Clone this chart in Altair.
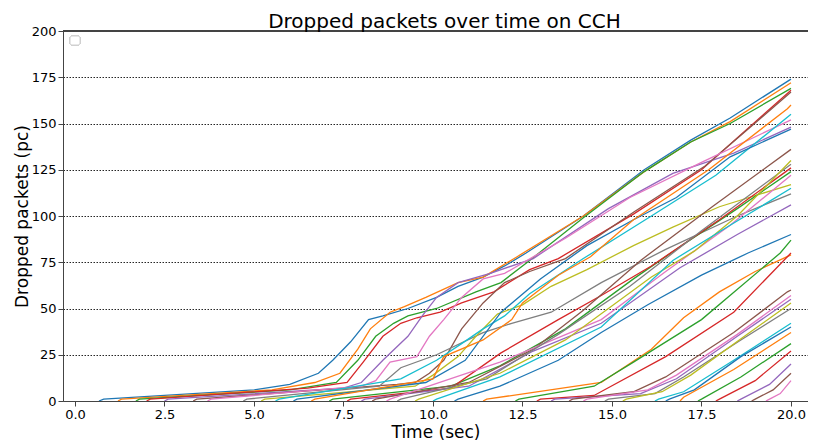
import altair as alt
import pandas as pd

# Tick labels
x_ticks = [0, 2.5, 5, 7.5, 10, 12.5, 15, 17.5, 20]
y_ticks = [0, 25, 50, 75, 100, 125, 150, 175, 200]

# matplotlib tab10 colour cycle
palette = ["#1f77b4", "#ff7f0e", "#2ca02c", "#d62728", "#9467bd",
           "#8c564b", "#e377c2", "#7f7f7f", "#bcbd22", "#17becf"]

# Each series: (time sec, dropped packets) key points
S00 = [(0.67,0),(0.8,1),(5.0,6),(6.0,9),(6.8,15),(7.2,22),(7.7,32),(8.2,44),(8.6,46),(9.3,50),(10.1,56),(10.7,62),(11.4,67),(12.0,73),(12.6,80),(14.2,100),(15.9,125),(17.2,141),(18.3,153),(20,174)]
S01 = [(1.2,0),(1.3,1),(5.5,6),(6.7,10),(7.4,15),(7.9,28),(8.25,39),(8.8,48),(9.2,51),(9.8,56),(10.7,64),(11.4,67),(12.35,78),(14.2,100),(15.9,124),(17.2,140),(18.3,151),(20,172)]
S02 = [(1.7,0),(1.8,1),(6.0,6),(7.3,10),(7.9,22),(8.4,35),(8.9,42),(9.3,46),(10.1,50),(11.2,59),(11.9,64),(12.7,76),(14.2,99),(15.9,124),(17.2,140),(18.3,150),(20,169)]
S03 = [(2.0,0),(2.1,1),(6.5,7),(7.6,10),(8.05,21),(8.6,35),(9.1,42),(9.55,45),(10.2,48),(10.8,53),(11.7,59),(12.7,71),(13.5,77),(15.6,101),(17.5,125),(20,168)]
S04 = [(2.5,0),(2.6,1),(7.5,7),(8.0,10),(8.6,22),(9.3,35),(9.7,46),(10.1,56),(10.7,64),(11.6,69),(12.8,77),(14.9,104),(16.7,123),(18.4,134),(20,148)]
S05 = [(3.3,0),(3.4,1),(9.0,9),(9.5,10),(9.9,15),(10.3,22),(10.8,39),(11.4,53),(12.0,64),(12.7,70),(13.7,77),(15.6,102),(17.6,127),(20,167)]
S06 = [(3.7,0),(3.8,1),(8.0,8),(8.4,11),(8.8,21),(9.55,24),(9.9,35),(10.3,44),(10.8,56),(11.4,66),(12.0,69),(13.7,88),(15.5,110),(17.5,129),(20,152)]
S07 = [(4.7,0),(4.8,1),(8.5,8),(9.1,18),(10.1,25),(11.4,37),(12.2,42),(13.3,48),(14.7,64),(16.5,82),(18.5,100),(20,112)]
S08 = [(5.2,0),(5.3,1),(9.5,8),(10.0,14),(10.7,24),(11.2,35),(11.8,47),(12.5,52),(13.3,62),(14.3,71),(15.6,84),(16.7,94),(18.0,105),(20,117)]
S09 = [(5.6,0),(5.7,1),(9.1,12),(10.1,22),(10.8,31),(11.4,39),(12.0,46),(12.7,58),(14.2,77),(16.1,100),(17.9,122),(20,155)]
S10 = [(6.1,0),(6.2,1),(9.8,10),(10.9,22),(11.9,48),(13.0,66),(14.3,84),(15.6,98),(16.8,110),(18.3,132),(20,147)]
S11 = [(6.6,0),(6.7,1),(10.0,12),(10.3,24),(11.4,33),(12.2,44),(12.5,53),(13.5,68),(14.4,78),(15.6,98),(17.7,125),(19.9,158),(20,160)]
S12 = [(7.1,0),(7.2,1),(10.5,8),(11.87,19),(13.7,39),(15.6,66),(17.1,86),(18.5,104),(20,124)]
S13 = [(7.6,0),(7.7,1),(10.5,7),(11.9,26),(13.5,44),(14.7,57),(16.1,73),(18.0,98),(20,126)]
S14 = [(8.0,0),(8.1,1),(11.0,8),(12.8,27),(14.7,42),(16.9,72),(18.5,90),(20,106)]
S15 = [(8.3,0),(8.4,1),(11.0,10),(12.8,28),(14.2,49),(15.8,76),(17.8,105),(20,136)]
S16 = [(8.7,0),(8.8,1),(11.87,21),(14.7,44),(16.5,70),(18.3,95),(20,122)]
S17 = [(9.0,0),(9.1,1),(11.5,12),(13.5,36),(15.5,62),(17.5,92),(20,128)]
S18 = [(9.5,0),(9.6,1),(11.87,15),(13.7,33),(16.1,67),(17.3,81),(18.5,100),(20,130)]
S19 = [(10.0,0),(10.1,1),(11.87,13),(14.7,40),(16.7,76),(18.3,95),(20,115)]
S20 = [(10.6,0),(10.7,1),(11.87,8),(13.5,22),(14.7,37),(16.0,52),(17.5,68),(18.8,80),(20,90)]
S21 = [(11.4,0),(11.5,1),(14.7,10),(16.1,28),(17.0,45),(18.0,59),(19.0,70),(20,79)]
S22 = [(12.3,0),(12.4,1),(14.5,8),(15.6,21),(17.5,44),(19.7,80),(20,87)]
S23 = [(12.9,0),(13.0,1),(14.5,3),(16.5,24),(18.4,48),(20,80)]
S24 = [(13.3,0),(13.4,1),(15.8,4),(16.8,12),(18.5,35),(20,55)]
S25 = [(13.8,0),(13.9,1),(15.6,5),(16.5,13),(18.4,37),(19.9,59),(20,60)]
S26 = [(14.2,0),(14.3,1),(16.0,6),(16.8,14),(18.5,36),(20,57)]
S27 = [(14.8,0),(14.9,1),(16.2,4),(17.0,13),(18.6,33),(20,50)]
S28 = [(15.3,0),(15.4,1),(16.4,5),(17.2,14),(18.7,35),(20,53)]
S29 = [(16.2,0),(16.3,1),(17.0,5),(18.4,22),(20,42)]
S30 = [(16.5,0),(16.6,1),(17.3,6),(18.6,24),(20,40)]
S31 = [(16.9,0),(17.0,2),(18.4,17),(20,37)]
S32 = [(17.4,0),(17.5,1),(18.6,13),(20,31)]
S33 = [(17.9,0),(18.0,1),(19.0,11),(20,27)]
S34 = [(18.5,0),(18.6,1),(19.4,9),(20,20)]
S35 = [(18.9,0),(19.0,1),(19.5,6),(20,15)]
S36 = [(19.3,0),(19.4,1),(19.7,4),(20,11)]

series = [S00,S01,S02,S03,S04,S05,S06,S07,S08,S09,S10,S11,S12,S13,S14,S15,S16,S17,S18,
          S19,S20,S21,S22,S23,S24,S25,S26,S27,S28,S29,S30,S31,S32,S33,S34,S35,S36]

rows = []
names = []
for i, s in enumerate(series):
    name = f"s{i:02d}"
    names.append(name)
    for k, (t, v) in enumerate(s):
        rows.append({"series": name, "t": t, "v": v, "k": k})
df = pd.DataFrame(rows)
colors = [palette[i % 10] for i in range(len(names))]

FONT = "DejaVu Sans"
xscale = alt.Scale(domain=[-0.335, 20.475], nice=False, zero=False)
yscale = alt.Scale(domain=[0, 200], nice=False)

lines = alt.Chart(df).mark_line(strokeWidth=1.3, clip=True).encode(
    x=alt.X("t:Q", scale=xscale,
            axis=alt.Axis(title="Time (sec)", values=x_ticks, format=".1f", grid=False,
                          tickSize=5, labelPadding=2, titlePadding=3)),
    y=alt.Y("v:Q", scale=yscale,
            axis=alt.Axis(title="Dropped packets (pc)", values=y_ticks, grid=True,
                          gridDash=[1.5, 1.5], gridColor="#000", gridWidth=1, gridOpacity=0.85,
                          tickSize=5, labelPadding=2, titlePadding=0)),
    color=alt.Color("series:N", scale=alt.Scale(domain=names, range=colors), legend=None),
    order=alt.Order("k:Q"),
)

top_spine = alt.Chart(df).mark_rule(color="#444", strokeWidth=1).encode(
    y=alt.datum(200, scale=yscale)
)

legend_box = alt.Chart(df).mark_rect(
    fill="white", stroke="#d0d0d0", strokeWidth=1, cornerRadius=2
).encode(x=alt.value(7), x2=alt.value(17), y=alt.value(5), y2=alt.value(14))

chart = alt.layer(lines, top_spine, legend_box).properties(
    width=745, height=370,
    title=alt.TitleParams("Dropped packets over time on CCH", font=FONT, fontSize=20,
                          fontWeight="normal", color="#000", anchor="middle", offset=4,
                          dx=9, dy=11),
    autosize=alt.AutoSizeParams(type="none"),
    padding={"left": 55, "top": 23, "right": 0, "bottom": 40},
).configure_view(stroke=None).configure_axis(
    labelFont=FONT, titleFont=FONT, labelFontSize=13, titleFontSize=17,
    labelColor="#000", titleColor="#000", titleFontWeight="normal",
    domainColor="#444", tickColor="#444", domainWidth=1, tickWidth=1,
)

chart.save("out.html", embed_options={"renderer": "svg", "actions": False})
